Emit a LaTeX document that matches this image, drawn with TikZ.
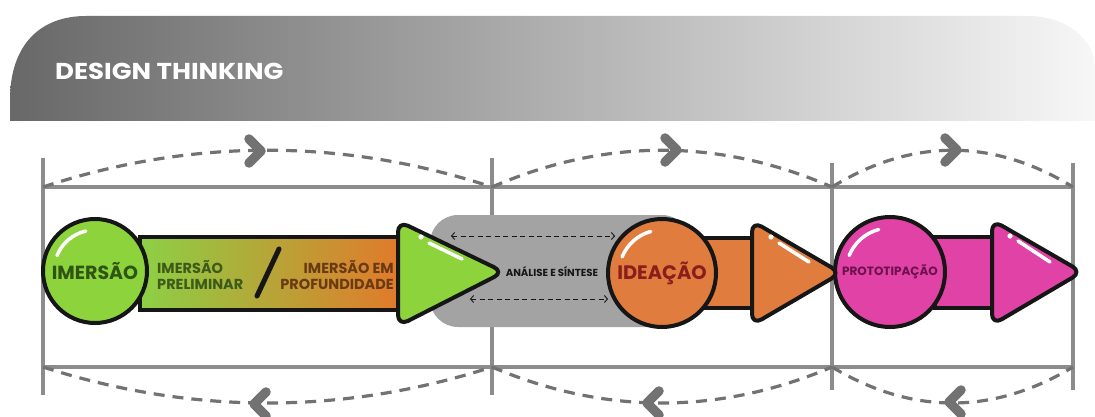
\documentclass[tikz,border=0pt]{standalone}
\usepackage{graphicx}
\usepackage{fontspec}
\setmainfont{Poppins}[BoldFont={Poppins Bold}]
\usetikzlibrary{arrows.meta,calc}
\definecolor{hdrdark}{HTML}{686868}
\definecolor{hdrlight}{HTML}{F7F7F7}
\definecolor{guidegray}{HTML}{8C8C8C}
\definecolor{arcgray}{HTML}{727272}
\definecolor{pillgray}{HTML}{A3A3A3}
\definecolor{outl}{HTML}{161616}
\definecolor{dtgreen}{HTML}{8DD43C}
\definecolor{dtorange}{HTML}{E07C3E}
\definecolor{dtpink}{HTML}{E042A5}
\definecolor{bargreen}{HTML}{8CD045}
\definecolor{barorange}{HTML}{E3782A}
\definecolor{greentext}{HTML}{2F5514}
\definecolor{lgreentext}{HTML}{3D5A18}
\definecolor{browntext}{HTML}{6A3A12}
\definecolor{redtext}{HTML}{8A1E1C}
\definecolor{purpletext}{HTML}{6C1150}
\begin{document}
\begin{tikzpicture}[x=1pt,y=-1pt,
  guide/.style={draw=guidegray, line width=4pt},
  arcdash/.style={draw=arcgray, line width=3.2pt, dash pattern=on 11pt off 8pt},
  chev/.style={draw=arcgray, line width=9.5pt, line cap=round, line join=round},
  shapeline/.style={draw=outl, line width=4pt},
  hl/.style={draw=white, line width=3.5pt, line cap=round},
  bubble/.style={circle, shapeline, inner sep=0pt, font=\bfseries},
  tri/.style={shapeline, rounded corners=11pt, line join=round},
  flowarrow/.style={draw=outl, line width=0.9pt, dash pattern=on 5pt off 3.5pt,
    {Straight Barb[length=3pt,width=7pt]}-{Straight Barb[length=3pt,width=7pt]}},
  lbl/.style={inner sep=0pt, font=\bfseries}
]
\useasboundingbox (0,0) rectangle (1095,417);

% header band
\shade[left color=hdrdark, right color=hdrlight]
  (10,121) -- (10,100) .. controls (10,45) and (40,16) .. (86,16)
  -- (1028,16) .. controls (1065,16) and (1095,38) .. (1095,68) -- (1095,121) -- cycle;
\node[lbl, text=white, anchor=west, font=\bfseries\fontsize{23}{26}\selectfont] (title) at (55,71) {\scalebox{1.13}[1]{DESIGN THINKING}};

% guide lines
\coordinate (v1t) at (43,158);  \coordinate (v1b) at (43,395);
\coordinate (v2t) at (492,158); \coordinate (v2b) at (492,395);
\coordinate (v3t) at (832,163); \coordinate (v3b) at (832,390);
\coordinate (v4t) at (1073,163);\coordinate (v4b) at (1073,390);
\draw[guide] (v1t) -- (v1b);
\draw[guide] (v2t) -- (v2b);
\draw[guide] (v3t) -- (v3b);
\draw[guide] (v4t) -- (v4b);
\coordinate (h1) at (43,187); \coordinate (h2) at (492,187); \coordinate (h3) at (832,187); \coordinate (h4) at (1073,187);
\coordinate (b1) at (43,367); \coordinate (b2) at (492,367); \coordinate (b3) at (832,367); \coordinate (b4) at (1073,367);
\draw[guide] (h1) -- (h4);
\draw[guide] (b1) -- (b4);

% dashed arcs
\draw[arcdash] (h1) .. controls (192,138) and (343,138) .. (h2);
\draw[arcdash] (h2) .. controls (605,138) and (719,138) .. (h3);
\draw[arcdash] (h3) .. controls (912,138) and (993,138) .. (h4);
\draw[arcdash] (b1) .. controls (192,415) and (343,415) .. (b2);
\draw[arcdash] (b2) .. controls (605,415) and (719,415) .. (b3);
\draw[arcdash] (b3) .. controls (912,415) and (993,415) .. (b4);

% chevrons
\draw[chev] (249,139) -- (261,151) -- (249,163);
\draw[chev] (665,138) -- (677,150) -- (665,162);
\draw[chev] (945,138) -- (957,150) -- (945,162);
\draw[chev] (266,392) -- (254,404) -- (266,416);
\draw[chev] (659,391) -- (647,403) -- (659,415);
\draw[chev] (961,390) -- (949,402) -- (961,414);

% grey pill
\fill[pillgray, rounded corners=28pt] (430,215) rectangle (690,327);
\coordinate (a1l) at (451,236); \coordinate (a1r) at (615,236);
\coordinate (a2l) at (470,299); \coordinate (a2r) at (608,299);
\draw[flowarrow] (a1l) -- (a1r);
\draw[flowarrow] (a2l) -- (a2r);
\node[lbl, text=outl, font=\bfseries\fontsize{10.2}{12}\selectfont] (analise) at (552,272) {ANÁLISE E SÍNTESE};

% bars
\shade[left color=bargreen, right color=barorange] (140,237) rectangle (405,310);
\draw[shapeline] (140,237) rectangle (405,310);
\fill[dtorange] (705,238) rectangle (765,308);
\draw[shapeline] (705,238) rectangle (765,308);
\fill[dtpink] (935,237) rectangle (1000,308);
\draw[shapeline] (935,237) rectangle (1000,308);

% bar texts
\node[lbl, text=lgreentext, align=left, anchor=west, font=\bfseries\fontsize{14.5}{16.5}\selectfont] (prelim) at (157,275) {IMERSÃO\\PRELIMINAR};
\node[lbl, text=browntext, align=right, anchor=east, font=\bfseries\fontsize{14.5}{16.5}\selectfont] (profund) at (394,275) {IMERSÃO EM\\PROFUNDIDADE};
\coordinate (s1) at (279,249); \coordinate (s2) at (257,296);
\draw[draw=outl, line width=5pt, line cap=round] (s1) -- (s2);

% circles
\node[bubble, fill=dtgreen, minimum size=104pt, text=greentext, font=\bfseries\fontsize{19}{21}\selectfont] (imersao) at (95,271) {IMERSÃO};
\node[bubble, fill=dtorange, minimum size=108pt, text=redtext, font=\bfseries\fontsize{19.5}{21}\selectfont] (ideacao) at (662,273) {IDEAÇÃO};
\node[bubble, fill=dtpink, minimum size=110pt, text=purpletext, font=\bfseries\fontsize{12}{14}\selectfont] (proto) at (890,272) {PROTOTIPAÇÃO};

% circle highlights
\draw[hl] (imersao.center) ++(-158:41) arc[start angle=-158, end angle=-103, radius=41];
\draw[hl] (ideacao.center) ++(-158:43) arc[start angle=-158, end angle=-105, radius=43];
\draw[hl] (proto.center) ++(-158:44) arc[start angle=-158, end angle=-105, radius=44];

% triangles
\coordinate (gt) at (504,272);
\draw[tri, fill=dtgreen] (398,221) -- (gt) -- (398,326) -- cycle;
\coordinate (ot) at (841,273);
\draw[tri, fill=dtorange] (752,221) -- (ot) -- (752,325) -- cycle;
\coordinate (pt) at (1082,272);
\draw[tri, fill=dtpink] (992,220) -- (pt) -- (992,325) -- cycle;

% triangle highlights
\fill[white] (421,237) circle (2.6pt);
\draw[hl] (429,243) -- (462,259);
\fill[white] (771,237) circle (2.6pt);
\draw[hl] (779,243) -- (809,262);
\fill[white] (1010,236) circle (2.6pt);
\draw[hl] (1018,241) -- (1050,262);
\end{tikzpicture}
\end{document}
